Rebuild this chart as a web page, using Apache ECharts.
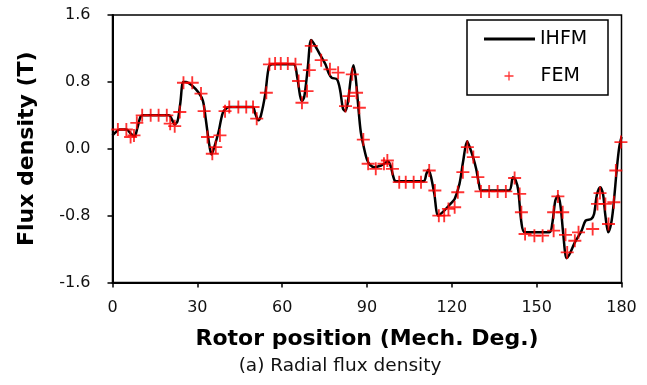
<!DOCTYPE html>
<html>
<head>
<meta charset="utf-8">
<script src="https://cdn.jsdelivr.net/npm/echarts@6/dist/echarts.min.js"></script>
<style>html,body{margin:0;padding:0;background:#fff}#c{width:647px;height:385px}</style>
</head>
<body>
<div id="c"></div>
<script>
// IHFM curve (rotor position in deg, radial flux density in T)
const ihfmX = [0,1.5,2.5,5,6.5,7.8,8.8,10,11,20,21,22,23,24,25,26,28,30.5,32,33,34,35,36,37.5,39,40.5,41.5,49.5,50.5,51.6,52.5,54,55.3,56.5,64,65.3,66.3,67,67.8,69,70.2,71,73,75.3,76.5,77.5,79.4,80.5,81.5,82.3,83.2,84.3,85.2,86,86.8,87.8,89,90,91,92.5,95,96.5,97.3,98.3,99.2,100.2,110,111,111.7,112.6,113.8,115.2,117.3,119.5,121,122.7,124,125.4,126.2,127.5,128.6,129.6,130.4,140.2,141.6,142.6,143.5,144.6,145.8,154.5,155.5,156.6,157.6,158.5,159.4,160.6,161.8,163.5,165.9,167.3,169.3,170.3,171.3,172.5,173.5,174.3,175.3,176.3,177.1,178.4,179.2,180];
const ihfmY = [0.16,0.21,0.23,0.23,0.18,0.15,0.25,0.39,0.40,0.40,0.35,0.29,0.33,0.55,0.80,0.80,0.76,0.67,0.57,0.35,0.10,-0.07,0.02,0.20,0.43,0.49,0.50,0.50,0.42,0.34,0.40,0.65,0.98,1.01,1.01,0.86,0.64,0.57,0.62,0.95,1.30,1.27,1.15,1.01,0.90,0.85,0.83,0.70,0.48,0.45,0.55,0.85,1.00,0.85,0.55,0.20,0.00,-0.13,-0.19,-0.22,-0.20,-0.17,-0.15,-0.20,-0.32,-0.39,-0.39,-0.30,-0.25,-0.33,-0.54,-0.80,-0.74,-0.66,-0.60,-0.42,-0.15,0.09,0.03,-0.10,-0.24,-0.42,-0.50,-0.50,-0.34,-0.38,-0.50,-0.88,-1.00,-1.00,-0.90,-0.62,-0.56,-0.70,-1.02,-1.31,-1.25,-1.12,-0.98,-0.86,-0.84,-0.78,-0.55,-0.46,-0.55,-0.80,-1.00,-0.90,-0.70,-0.22,0.02,0.14];
// FEM results
const femX = [1.9,4.9,6.4,7.6,8.6,10.5,13.5,16.3,19.2,20.4,22.0,23.8,25.1,28.2,31.3,32.4,33.6,35.3,36.5,38.0,39.8,41.3,44.5,47.3,49.7,51.0,54.4,55.5,57.5,59.5,62.0,64.7,65.8,67.0,68.8,69.6,70.3,73.8,76.9,79.8,82.4,83.6,84.8,86.3,87.3,88.7,90.4,93.1,96.0,97.2,99.0,101.4,103.7,106.5,109.1,112.0,114.0,115.4,117.3,118.8,121.0,122.1,123.9,125.5,127.6,129.2,130.3,133.2,136.2,139.1,142.2,144.0,144.6,145.9,149.2,152.1,156.0,156.0,157.5,159.2,160.2,160.8,163.5,164.8,169.8,171.5,172.4,174.3,175.4,177.3,178.0,179.8];
const femY = [0.23,0.23,0.14,0.16,0.31,0.40,0.40,0.40,0.40,0.30,0.27,0.44,0.79,0.79,0.66,0.45,0.14,-0.06,0.02,0.16,0.45,0.50,0.50,0.50,0.50,0.36,0.67,1.01,1.02,1.02,1.02,1.01,0.81,0.55,0.69,0.94,1.23,1.06,0.95,0.91,0.51,0.63,0.89,0.67,0.49,0.11,-0.18,-0.24,-0.18,-0.14,-0.24,-0.40,-0.40,-0.40,-0.40,-0.26,-0.50,-0.80,-0.80,-0.72,-0.70,-0.52,-0.28,0.02,-0.10,-0.34,-0.51,-0.51,-0.51,-0.51,-0.35,-0.54,-0.76,-1.02,-1.04,-1.04,-0.98,-0.76,-0.57,-0.76,-1.03,-1.24,-1.10,-1.00,-0.96,-0.66,-0.53,-0.66,-0.90,-0.64,-0.26,0.08];
const xTicks = {min: 0, max: 180, interval: 30};
const yTicks = {min: -1.6, max: 1.6, interval: 0.8};

const chart = echarts.init(document.getElementById('c'), null, {renderer: 'canvas'});
const font = '"DejaVu Sans", sans-serif';
const plus = 'path://M6,0h2v6h6v2h-6v6h-2v-6h-6v-2h6z';
chart.setOption({
  animation: false,
  backgroundColor: '#fff',
  textStyle: {fontFamily: font},
  title: {
    text: '(a) Radial flux density', left: 340, top: 357, textAlign: 'center', padding: 0,
    textStyle: {fontFamily: font, fontSize: 18.5, fontWeight: 'normal', color: '#111'}
  },
  grid: {left: 112.5, right: 25.5, top: 15, bottom: 102.5, show: true, borderColor: '#000', borderWidth: 1.5, backgroundColor: 'transparent'},
  xAxis: {
    type: 'value', min: xTicks.min, max: xTicks.max, interval: xTicks.interval,
    name: 'Rotor position (Mech. Deg.)', nameLocation: 'middle', nameGap: 46,
    nameTextStyle: {fontFamily: font, fontSize: 22, fontWeight: 'bold', color: '#000'},
    axisLine: {onZero: false, lineStyle: {color: '#000', width: 2}},
    axisTick: {length: 5, lineStyle: {color: '#000', width: 1.5}},
    axisLabel: {fontFamily: font, fontSize: 16, color: '#111', margin: 17},
    splitLine: {show: false}
  },
  yAxis: {
    type: 'value', min: yTicks.min, max: yTicks.max, interval: yTicks.interval,
    name: 'Flux density (T)', nameLocation: 'middle', nameGap: 74,
    nameTextStyle: {fontFamily: font, fontSize: 22, fontWeight: 'bold', color: '#000'},
    axisLine: {lineStyle: {color: '#000', width: 2}},
    axisTick: {length: 5, lineStyle: {color: '#000', width: 1.5}},
    axisLabel: {fontFamily: font, fontSize: 16, color: '#111', margin: 22, formatter: v => v.toFixed(1)},
    splitLine: {show: false}
  },
  legend: [
    {data: [{name: 'IHFM', icon: 'path://M0,0h52v3h-52z'}], left: 484, top: 28, padding: 0, itemWidth: 51, itemHeight: 3, itemGap: 6,
     textStyle: {fontFamily: font, fontSize: 19, color: '#000', lineHeight: 22}},
    {data: ['FEM'], left: 504.5, top: 65, padding: 0, itemWidth: 9, itemHeight: 9,
     textStyle: {fontFamily: font, fontSize: 19, color: '#000', lineHeight: 22, padding: [0, 0, 0, 22]}}
  ],
  graphic: [{type: 'rect', shape: {x: 467, y: 20, width: 141, height: 75}, style: {fill: 'none', stroke: '#000', lineWidth: 1.5}, z: 10}],
  series: [
    {name: 'IHFM', type: 'line', data: ihfmX.map((x, i) => [x, ihfmY[i]]), symbol: 'none', smooth: 0.3,
     lineStyle: {color: '#000', width: 2.5}, itemStyle: {color: '#000'}, z: 2},
    {name: 'FEM', type: 'scatter', data: femX.map((x, i) => [x, femY[i]]), symbol: plus, symbolSize: 13,
     itemStyle: {color: '#ff0000'}, z: 3}
  ]
});
</script>
</body>
</html>
